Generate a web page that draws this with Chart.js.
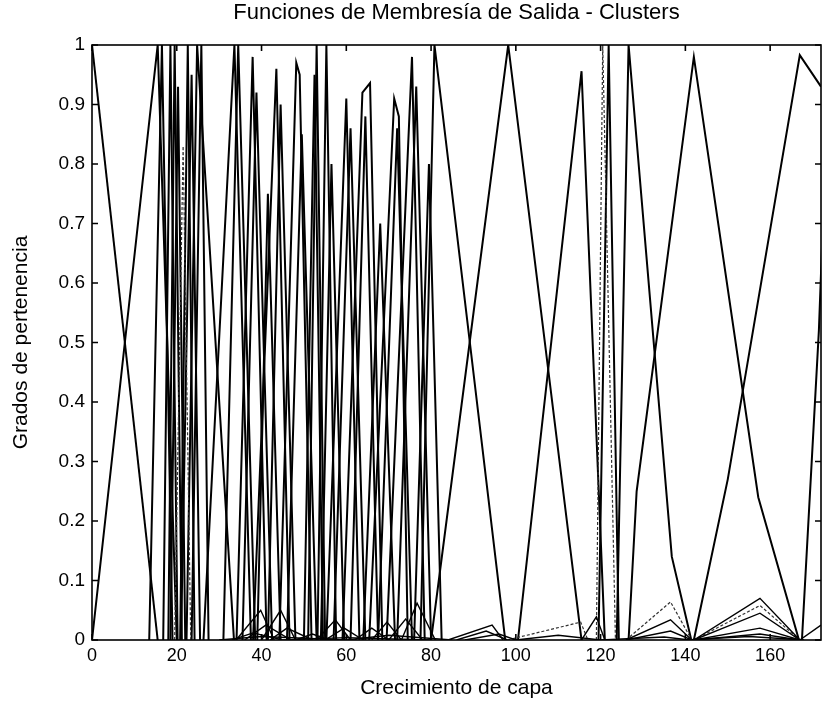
<!DOCTYPE html>
<html>
<head>
<meta charset="utf-8">
<title>Funciones de Membresía de Salida - Clusters</title>
<script src="https://cdn.jsdelivr.net/npm/chart.js"></script>
<style>
    html, body { margin: 0; padding: 0; background: #fff; overflow: hidden; }
    #wrap { width: 822px; height: 705px; position: relative; }
</style>
</head>
<body>
<div id="wrap"><canvas id="mfChart"></canvas></div>
<script>
const xTicks = [0, 20, 40, 60, 80, 100, 120, 140, 160];
const yTicks = [0, 0.1, 0.2, 0.3, 0.4, 0.5, 0.6, 0.7, 0.8, 0.9, 1];

// triangular clusters: left foot, peak position, peak height, right foot
const footL = [0, 16.8, 18.5, 20.8, 22.3, 26.3, 34.1, 38.0, 51.0, 53.2, 55.3, 69.5, 77.5, 80.0, 100.5, 119.5,
               13.5, 18.0, 21.0, 23.5, 31.0, 35.5, 39.0, 41.5, 46.0, 50.0, 54.0, 57.0, 61.0, 64.0, 67.5, 72.0, 76.0];
const peakX = [15.5, 18.5, 20.3, 22.6, 24.8, 33.6, 37.9, 43.5, 53.0, 55.3, 60.0, 75.5, 80.8, 98.2, 115.5, 121.9,
               16.5, 19.5, 23.5, 25.8, 34.5, 38.8, 41.5, 44.5, 49.5, 52.5, 56.5, 61.0, 64.5, 68.0, 72.0, 76.5, 79.5];
const peakY = [1, 1, 0.93, 1, 1, 1, 0.98, 0.96, 1, 1, 0.91, 0.98, 1, 1, 0.956, 1,
               1, 1, 0.95, 1, 1, 0.92, 0.75, 0.9, 0.85, 0.95, 0.8, 0.86, 0.88, 0.7, 0.86, 0.93, 0.8];
const footR = [20.0, 20.2, 22.0, 24.2, 33.5, 37.5, 41.2, 46.6, 55.0, 57.6, 63.1, 78.5, 97.5, 115.5, 121.0, 124.3,
               19.0, 21.2, 25.5, 27.5, 38.5, 42.5, 44.5, 48.0, 53.0, 54.5, 59.5, 64.5, 67.5, 71.5, 75.5, 80.0, 82.5];

// clusters that are not plain triangles (shoulders / bent legs)
const bentX = [
    [0, 15.5],
    [44.2, 48.2, 49.0, 51.8],
    [59.1, 63.8, 65.6, 68.5],
    [65.4, 71.3, 72.4, 74.5],
    [123.8, 126.6, 136.8, 141.4],
    [126.6, 128.5, 142.0, 157.2, 166.8],
    [142.0, 150.0, 167.0, 172.0],
    [167.5, 171.5, 174.0]
];
const bentY = [
    [1, 0],
    [0, 0.97, 0.95, 0],
    [0, 0.92, 0.936, 0],
    [0, 0.91, 0.88, 0],
    [0, 1, 0.14, 0],
    [0, 0.25, 0.98, 0.24, 0],
    [0, 0.27, 0.983, 0.93],
    [0, 0.52, 1]
];

// dotted grey clusters
const dashL = [19.5, 98, 126, 142, 119.0];
const dashX = [21.5, 115.3, 136.5, 157.6, 120.5];
const dashY = [0.83, 0.03, 0.064, 0.058, 1];
const dashR = [23.3, 117, 141.5, 167, 123.5];

// small bumps along the bottom
const bumpL = [34, 40, 36, 33, 42, 48, 53, 55, 62, 66, 73, 70, 84, 86, 100, 115.5, 126, 126, 142, 142, 142, 142, 167, 30, 60, 88, 45, 120, 140];
const bumpX = [39.8, 44.5, 41, 38, 46, 52, 57.4, 59.5, 66, 69.6, 76.7, 74, 94.4, 93, 110, 119, 136.5, 136.5, 157.6, 157.6, 157.6, 157.6, 172, 40, 70, 96, 60, 135, 155];
const bumpY = [0.05, 0.05, 0.025, 0.012, 0.02, 0.01, 0.034, 0.02, 0.02, 0.03, 0.062, 0.035, 0.025, 0.015, 0.008, 0.039, 0.034, 0.015, 0.07, 0.045, 0.02, 0.01, 0.025, 0.006, 0.008, 0.01, 0.004, 0.005, 0.006];
const bumpR = [43, 48, 47, 45, 52, 56, 61, 64, 70, 73, 81, 78, 97, 98, 120, 121, 141.5, 141.5, 167, 167, 167, 167, 180, 60, 85, 100, 80, 141, 168];

const sans = "'Liberation Sans', Arial, Helvetica, sans-serif";

function tri(l, p, h, r) {
    return [{x: l, y: 0}, {x: p, y: h}, {x: r, y: 0}];
}

function lineSet(points, style) {
    return Object.assign({
        data: points,
        borderColor: '#000',
        borderWidth: 2,
        pointRadius: 0,
        tension: 0,
        fill: false
    }, style);
}

const datasets = [];
bumpL.forEach((l, i) => datasets.push(lineSet(tri(l, bumpX[i], bumpY[i], bumpR[i]), {borderWidth: 1.4})));
dashL.forEach((l, i) => datasets.push(lineSet(tri(l, dashX[i], dashY[i], dashR[i]), {borderColor: '#333', borderWidth: 1.2, borderDash: [3, 2]})));
footL.forEach((l, i) => datasets.push(lineSet(tri(l, peakX[i], peakY[i], footR[i]), {})));
bentX.forEach((xs, i) => datasets.push(lineSet(xs.map((x, j) => ({x: x, y: bentY[i][j]})), {})));

// matlab style box with inward ticks
const framePlugin = {
    id: 'frame',
    afterDatasetsDraw(chart) {
        const {ctx, chartArea: a, scales} = chart;
        ctx.save();
        ctx.strokeStyle = '#000';
        ctx.lineWidth = 1.6;
        ctx.strokeRect(a.left, a.top, a.right - a.left, a.bottom - a.top);
        ctx.beginPath();
        xTicks.forEach(v => {
            const px = scales.x.getPixelForValue(v);
            ctx.moveTo(px, a.bottom); ctx.lineTo(px, a.bottom - 6);
            ctx.moveTo(px, a.top); ctx.lineTo(px, a.top + 6);
        });
        yTicks.forEach(v => {
            const py = scales.y.getPixelForValue(v);
            ctx.moveTo(a.left, py); ctx.lineTo(a.left + 6, py);
            ctx.moveTo(a.right, py); ctx.lineTo(a.right - 6, py);
        });
        ctx.stroke();
        ctx.restore();
    }
};

new Chart(document.getElementById('mfChart').getContext('2d'), {
    type: 'line',
    data: { datasets: datasets },
    plugins: [framePlugin],
    options: {
        responsive: true,
        maintainAspectRatio: false,
        animation: false,
        layout: { padding: { left: 0, right: 1, top: 0, bottom: 0 } },
        plugins: {
            legend: { display: false },
            tooltip: { enabled: false },
            title: { display: false }
        },
        scales: {
            x: {
                type: 'linear',
                min: 0,
                max: 172,
                afterBuildTicks: s => { s.ticks = xTicks.map(v => ({value: v})); },
                afterFit: s => { s.height = 65; },
                grid: { display: false, drawTicks: false },
                border: { display: false },
                ticks: {
                    color: '#000',
                    padding: 5,
                    maxRotation: 0,
                    font: { family: sans, size: 18 },
                    callback: v => String(v)
                },
                title: {
                    display: true,
                    text: 'Crecimiento de capa',
                    color: '#000',
                    font: { family: sans, size: 21 },
                    padding: { top: 0, bottom: 4 }
                }
            },
            // top axis only carries the plot title, centred over the axes like matlab
            top: {
                type: 'linear',
                position: 'top',
                min: 0,
                max: 172,
                afterFit: s => { s.height = 45; },
                grid: { display: false, drawTicks: false },
                border: { display: false },
                ticks: { display: false },
                title: {
                    display: true,
                    text: 'Funciones de Membresía de Salida - Clusters',
                    color: '#000',
                    font: { family: sans, size: 22 },
                    padding: { top: 0, bottom: 0 }
                }
            },
            y: {
                min: 0,
                max: 1,
                afterBuildTicks: s => { s.ticks = yTicks.map(v => ({value: v})); },
                afterFit: s => { s.width = 92; },
                grid: { display: false, drawTicks: false },
                border: { display: false },
                ticks: {
                    color: '#000',
                    padding: 7,
                    font: { family: sans, size: 19 },
                    callback: v => String(v)
                },
                title: {
                    display: true,
                    text: 'Grados de pertenencia',
                    color: '#000',
                    font: { family: sans, size: 21 },
                    padding: { top: 9, bottom: 0 }
                }
            }
        }
    }
});
</script>
</body>
</html>
